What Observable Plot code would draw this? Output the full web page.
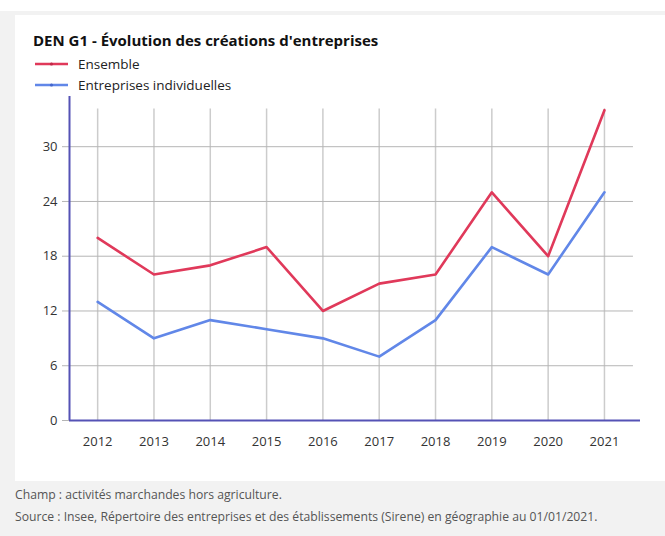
<!DOCTYPE html>
<html>
<head>
<meta charset="utf-8">
<script src="https://cdn.jsdelivr.net/npm/d3@7"></script>
<script src="https://cdn.jsdelivr.net/npm/@observablehq/plot@0.6"></script>
<style>
  html, body { margin: 0; padding: 0; background: #ffffff; font-family: "Open Sans", sans-serif; }
  #outer { position: absolute; left: 0; top: 11px; width: 665px; height: 525px; background: #f2f2f2; }
  #panel { position: absolute; left: 15px; top: 15px; width: 650px; height: 466px; background: #ffffff; }
  #title { position: absolute; left: 33px; top: 30px; font-size: 15px; font-weight: 700; color: #111; white-space: nowrap; line-height: 20px; }
  .leg { position: absolute; left: 35px; height: 20px; display: flex; align-items: center; font-size: 13.5px; color: #222; white-space: nowrap; }
  .leg svg { margin-right: 10px; }
  #chart { position: absolute; left: 15px; top: 90px; }
  .cap { position: absolute; left: 15px; font-size: 12.2px; color: #555; white-space: nowrap; line-height: 16px; }
</style>
</head>
<body>
<div id="outer"></div>
<div id="panel"></div>
<div id="title">DEN G1 - Évolution des créations d'entreprises</div>
<div class="leg" style="top:54px"><svg width="33" height="6"><line x1="0" y1="3" x2="33" y2="3" stroke="#e0395a" stroke-width="2.5"/><circle cx="16.5" cy="3" r="1.6" fill="#c02848"/></svg>Ensemble</div>
<div class="leg" style="top:75px"><svg width="33" height="6"><line x1="0" y1="3" x2="33" y2="3" stroke="#6187e8" stroke-width="2.5"/><circle cx="16.5" cy="3" r="1.6" fill="#4466cc"/></svg>Entreprises individuelles</div>
<div id="chart"></div>
<div class="cap" style="top:487px">Champ : activités marchandes hors agriculture.</div>
<div class="cap" style="top:509px">Source : Insee, Répertoire des entreprises et des établissements (Sirene) en géographie au 01/01/2021.</div>
<script>
const years = [2012, 2013, 2014, 2015, 2016, 2017, 2018, 2019, 2020, 2021];
const ensemble = [20, 16, 17, 19, 12, 15, 16, 25, 18, 34];
const individuelles = [13, 9, 11, 10, 9, 7, 11, 19, 16, 25];
const yTicks = [0, 6, 12, 18, 24, 30];
const seriesNames = ["Ensemble", "Entreprises individuelles"];
const seriesColors = ["#e0395a", "#6187e8"];

const data = [
  ...years.map((year, i) => ({year, value: ensemble[i], series: seriesNames[0]})),
  ...years.map((year, i) => ({year, value: individuelles[i], series: seriesNames[1]}))
];

const xMin = 2011.5, xMax = 2021.64, yMax = 35.5;
const axisColor = "#5552b5";

const chart = Plot.plot({
  width: 650,
  height: 370,
  marginLeft: 54,
  marginRight: 25,
  marginTop: 6,
  marginBottom: 40,
  style: {fontFamily: "Open Sans, sans-serif", fontSize: "13px", color: "#333", background: "transparent"},
  x: {type: "linear", domain: [xMin, xMax], axis: null},
  y: {domain: [0, yMax], axis: null},
  color: {domain: seriesNames, range: seriesColors},
  marks: [
    Plot.ruleX(years, {x: d => d, y1: 0, y2: 34.8, insetBottom: -6, stroke: "#cccccc", strokeWidth: 1.5}),
    Plot.ruleY(yTicks, {y: d => d, x1: xMin, x2: 2021.515, insetLeft: -7, stroke: "#b5b5b5", strokeWidth: 1}),
    Plot.text(years, {x: d => d, y: 0, text: d => String(d), dy: 21, fill: "#333", fontSize: 13}),
    Plot.text(yTicks, {x: xMin, y: d => d, text: d => String(d), dx: -12, textAnchor: "end", fill: "#333", fontSize: 13}),
    Plot.ruleY([0], {x1: xMin, x2: xMax, stroke: axisColor, strokeWidth: 2}),
    Plot.ruleX([xMin], {y1: 0, y2: yMax, stroke: axisColor, strokeWidth: 2}),
    Plot.line(data, {x: "year", y: "value", z: "series", stroke: "series", strokeWidth: 2.6})
  ]
});
document.getElementById("chart").appendChild(chart);
</script>
</body>
</html>
